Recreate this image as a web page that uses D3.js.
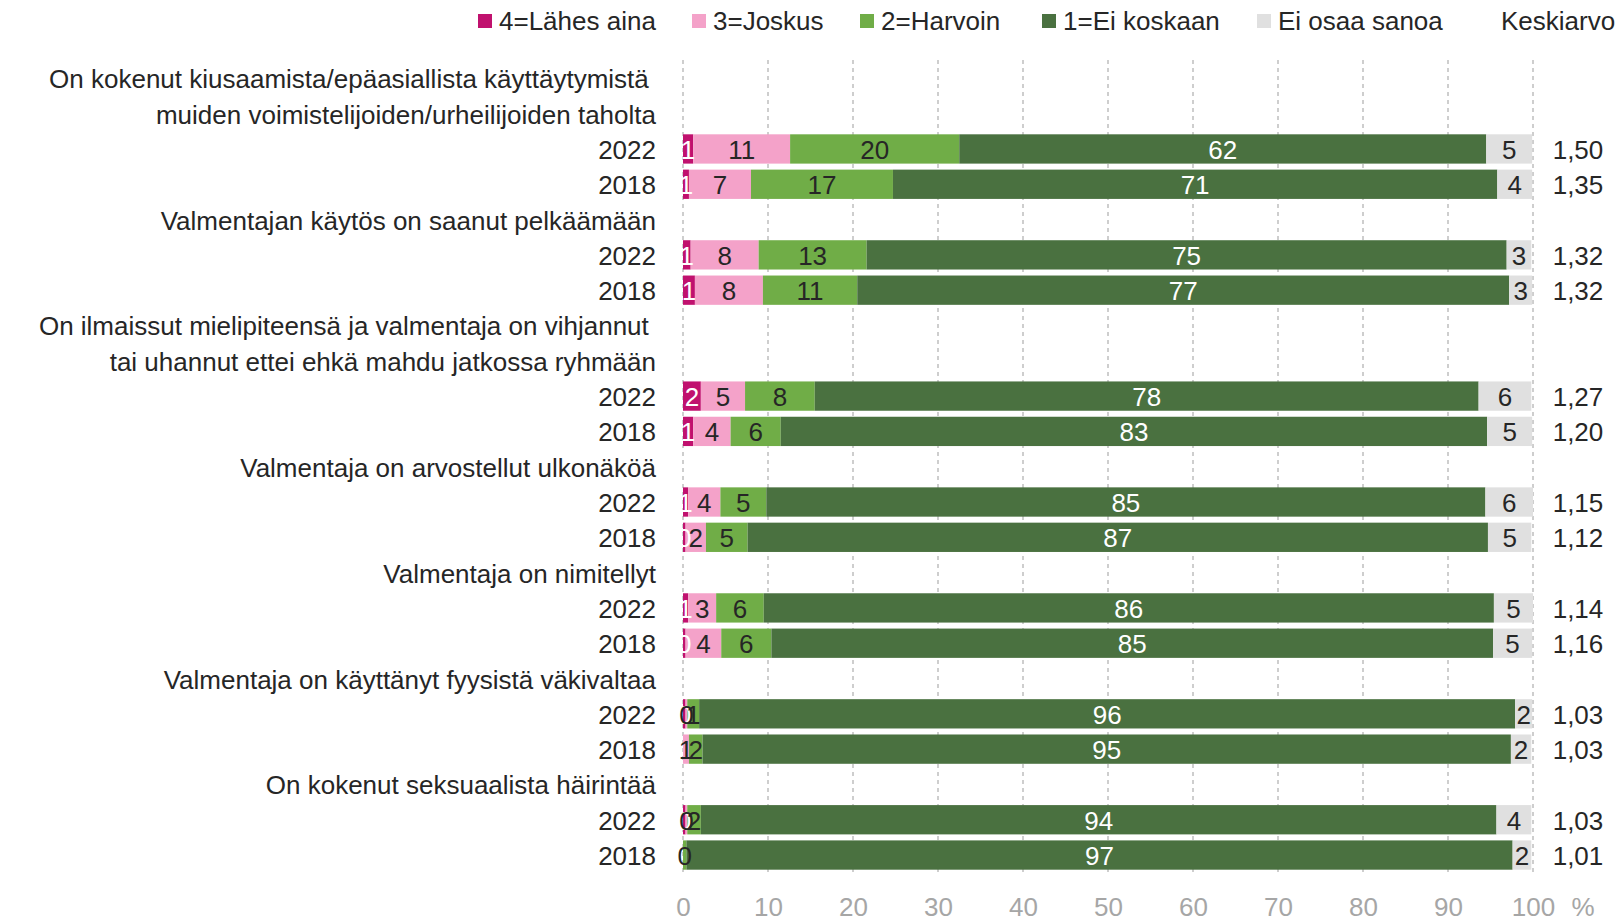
<!DOCTYPE html>
<html>
<head>
<meta charset="utf-8">
<script src="https://cdn.jsdelivr.net/npm/d3@7"></script>
<style>
  html, body { margin: 0; padding: 0; background: #fff; }
  svg { display: block; }
  text { font-family: "Liberation Sans", Arial, sans-serif; white-space: pre; }
</style>
</head>
<body>
<div id="chart"></div>
<script>
// ---------- DATA ----------
const categories = [
  ["On kokenut kiusaamista/epäasiallista käyttäytymistä ", "muiden voimistelijoiden/urheilijoiden taholta"],
  ["Valmentajan käytös on saanut pelkäämään"],
  ["On ilmaissut mielipiteensä ja valmentaja on vihjannut ", "tai uhannut ettei ehkä mahdu jatkossa ryhmään"],
  ["Valmentaja on arvostellut ulkonäköä"],
  ["Valmentaja on nimitellyt"],
  ["Valmentaja on käyttänyt fyysistä väkivaltaa"],
  ["On kokenut seksuaalista häirintää"]
];
const years = ["2022", "2018"];
const seriesNames = ["4=Lähes aina", "3=Joskus", "2=Harvoin", "1=Ei koskaan", "Ei osaa sanoa"];
// values in order: cat1-2022, cat1-2018, cat2-2022, cat2-2018, ...
const lahesAina  = [1.2, 0.7, 0.9, 1.4, 2.1, 1.2, 0.6, 0.3, 0.6, 0.3, 0.3, 0, 0.3, 0];
const joskus     = [11.4, 7.3, 8.0, 8.0, 5.2, 4.4, 3.8, 2.4, 3.3, 4.2, 0.2, 0.7, 0.2, 0];
const harvoin    = [19.9, 16.7, 12.7, 11.1, 8.2, 5.9, 5.4, 4.9, 5.6, 5.9, 1.4, 1.6, 1.6, 0.4];
const eiKoskaan  = [62.0, 71.1, 75.3, 76.7, 78.1, 83.1, 84.6, 87.1, 85.9, 84.9, 96.0, 95.1, 93.6, 97.2];
const eiOsaa     = [5.4, 4.1, 2.9, 2.7, 6.2, 5.3, 5.6, 5.1, 4.6, 4.6, 2.0, 2.4, 4.1, 2.2];
const keskiarvo  = [1.50, 1.35, 1.32, 1.32, 1.27, 1.20, 1.15, 1.12, 1.14, 1.16, 1.03, 1.03, 1.03, 1.01];
const xTicks = [0, 10, 20, 30, 40, 50, 60, 70, 80, 90, 100];
const meanTitle = "Keskiarvo";
const unitLabel = "%";

// ---------- STYLE ----------
const colors = ["#C0116E", "#F4A2C9", "#70AD47", "#4A7140", "#E0E0E0"];
const labelColors = ["#ffffff", "#262626", "#262626", "#ffffff", "#262626"];
const textColor = "#262626";
const W = 1620, H = 922;
const FS = 26;

// ---------- BUILD ROWS ----------
const seriesVals = [lahesAina, joskus, harvoin, eiKoskaan, eiOsaa];
const rows = [];
let bi = 0;
categories.forEach((lines, ci) => {
  lines.forEach((ln, li) => rows.push({key: `c${ci}l${li}`, type: "label", text: ln}));
  years.forEach(y => { rows.push({key: `c${ci}y${y}`, type: "bar", text: y, idx: bi}); bi++; });
});

const svg = d3.select("#chart").append("svg").attr("width", W).attr("height", H);
svg.append("rect").attr("width", W).attr("height", H).attr("fill", "#fff");

const x = d3.scaleLinear().domain([0, 100]).range([683, 1533]);
const y = d3.scaleBand().domain(rows.map(r => r.key)).range([60.7, 872.7]).paddingInner(0.17).paddingOuter(0.085);

// gridlines
svg.append("g").selectAll("line").data(xTicks).join("line")
  .attr("x1", d => x(d)).attr("x2", d => x(d))
  .attr("y1", 60).attr("y2", 873)
  .attr("stroke", "#BFBFBF").attr("stroke-width", 1.5).attr("stroke-dasharray", "4,4");

// x axis tick labels
const xAxis = d3.axisBottom(x).tickValues(xTicks).tickSize(0).tickPadding(0).tickFormat(d3.format("d"));
const gx = svg.append("g").attr("transform", "translate(0,907)").call(xAxis);
gx.select(".domain").remove();
gx.selectAll("text").attr("y", 0).attr("dy", null).attr("dominant-baseline", "central")
  .attr("font-size", FS).attr("fill", "#A6A6A6")
  .attr("font-family", "Liberation Sans, Arial, sans-serif");
svg.append("text").attr("x", 1583).attr("y", 907).attr("text-anchor", "middle")
  .attr("dominant-baseline", "central").attr("font-size", FS).attr("fill", "#A6A6A6").text(unitLabel);

// row labels
svg.append("g").selectAll("text").data(rows).join("text")
  .attr("x", 656).attr("y", d => y(d.key) + y.bandwidth() / 2 + 1)
  .attr("text-anchor", "end").attr("dominant-baseline", "central")
  .attr("font-size", FS).attr("fill", textColor).text(d => d.text);

// stacked bars
const barRows = rows.filter(r => r.type === "bar");
const segs = [];
barRows.forEach(r => {
  let acc = 0;
  seriesVals.forEach((arr, si) => {
    const v = arr[r.idx];
    segs.push({row: r, si, v, x0: acc, x1: acc + v});
    acc += v;
  });
});
const gb = svg.append("g");
gb.selectAll("rect").data(segs.filter(s => s.v > 0)).join("rect")
  .attr("x", d => x(d.x0)).attr("width", d => x(d.x1) - x(d.x0))
  .attr("y", d => y(d.row.key)).attr("height", y.bandwidth())
  .attr("fill", d => colors[d.si]);
gb.selectAll("text").data(segs.filter(s => s.v > 0)).join("text")
  .attr("x", d => (x(d.x0) + x(d.x1)) / 2).attr("y", d => y(d.row.key) + y.bandwidth() / 2 + 1)
  .attr("text-anchor", "middle").attr("dominant-baseline", "central")
  .attr("font-size", FS).attr("fill", d => labelColors[d.si])
  .text(d => d3.format(".0f")(d.v));

// mean values
const fmtMean = v => d3.format(".2f")(v).replace(".", ",");
svg.append("g").selectAll("text").data(barRows).join("text")
  .attr("x", 1578).attr("y", d => y(d.key) + y.bandwidth() / 2 + 1)
  .attr("text-anchor", "middle").attr("dominant-baseline", "central")
  .attr("font-size", FS).attr("fill", textColor).text(d => fmtMean(keskiarvo[d.idx]));

// legend
const legX = [478, 692, 860, 1042, 1257];
const lg = svg.append("g");
seriesNames.forEach((n, i) => {
  lg.append("rect").attr("x", legX[i]).attr("y", 14).attr("width", 14).attr("height", 14).attr("fill", colors[i]);
  lg.append("text").attr("x", legX[i] + 21).attr("y", 21).attr("dominant-baseline", "central")
    .attr("font-size", FS).attr("fill", textColor).text(n);
});
lg.append("text").attr("x", 1501).attr("y", 21).attr("dominant-baseline", "central")
  .attr("font-size", FS).attr("fill", textColor).text(meanTitle);
</script>
</body>
</html>
